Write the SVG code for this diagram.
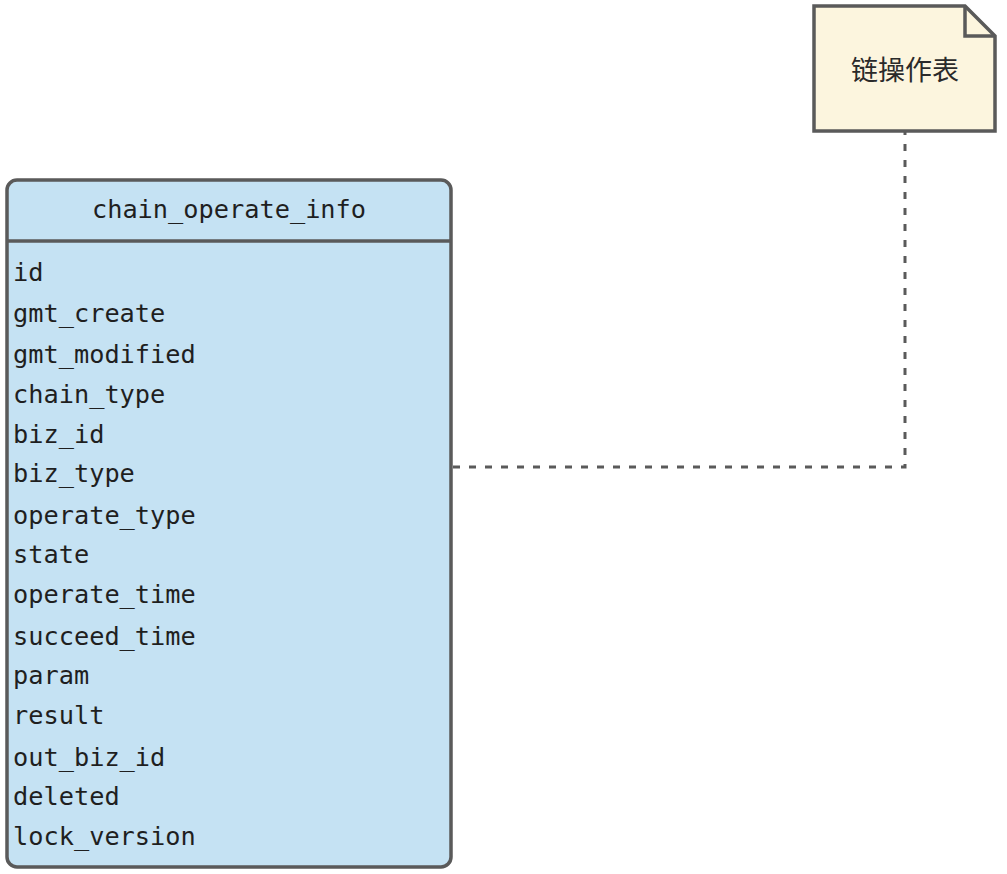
<svg xmlns="http://www.w3.org/2000/svg" width="1007" height="874" viewBox="0 0 1007 874">
<style>
.mono{font-family:"DejaVu Sans Mono","Liberation Mono",monospace;font-size:25.3px;fill:#1f1f1f;dominant-baseline:central}
.cjk{font-family:"Noto Sans CJK SC","Noto Sans",sans-serif;font-size:27px;fill:#2a2a2a;dominant-baseline:central;text-anchor:middle}
.edge{fill:none;stroke:#5a5a5a;stroke-width:3;stroke-dasharray:7 9}
</style>
<rect width="1007" height="874" fill="#ffffff"/>
<g id="connectors">
<path class="edge" d="M453 467 H905 V131"/>
</g>
<g id="note">
<path d="M814 6 H965 L995 36 V131 H814 Z" fill="#fcf5de" stroke="#5a5a5a" stroke-width="3.5" stroke-linejoin="miter"/>
<path d="M965 6 V36 H995" fill="none" stroke="#5a5a5a" stroke-width="3.5"/>
<text class="cjk" x="905" y="68">链操作表</text>
</g>
<g id="table">
<rect x="7" y="180" width="444" height="687" rx="10" fill="#c5e2f3" stroke="#5a5a5a" stroke-width="3.5"/>
<line x1="7" y1="241" x2="451" y2="241" stroke="#5a5a5a" stroke-width="3.5"/>
<text class="mono" x="229" y="209" text-anchor="middle">chain_operate_info</text>
<text class="mono" x="13" y="272">id</text>
<text class="mono" x="13" y="313">gmt_create</text>
<text class="mono" x="13" y="354">gmt_modified</text>
<text class="mono" x="13" y="394">chain_type</text>
<text class="mono" x="13" y="434">biz_id</text>
<text class="mono" x="13" y="473">biz_type</text>
<text class="mono" x="13" y="515">operate_type</text>
<text class="mono" x="13" y="554">state</text>
<text class="mono" x="13" y="594">operate_time</text>
<text class="mono" x="13" y="636">succeed_time</text>
<text class="mono" x="13" y="675">param</text>
<text class="mono" x="13" y="715">result</text>
<text class="mono" x="13" y="757">out_biz_id</text>
<text class="mono" x="13" y="796">deleted</text>
<text class="mono" x="13" y="836">lock_version</text>
</g>
</svg>
